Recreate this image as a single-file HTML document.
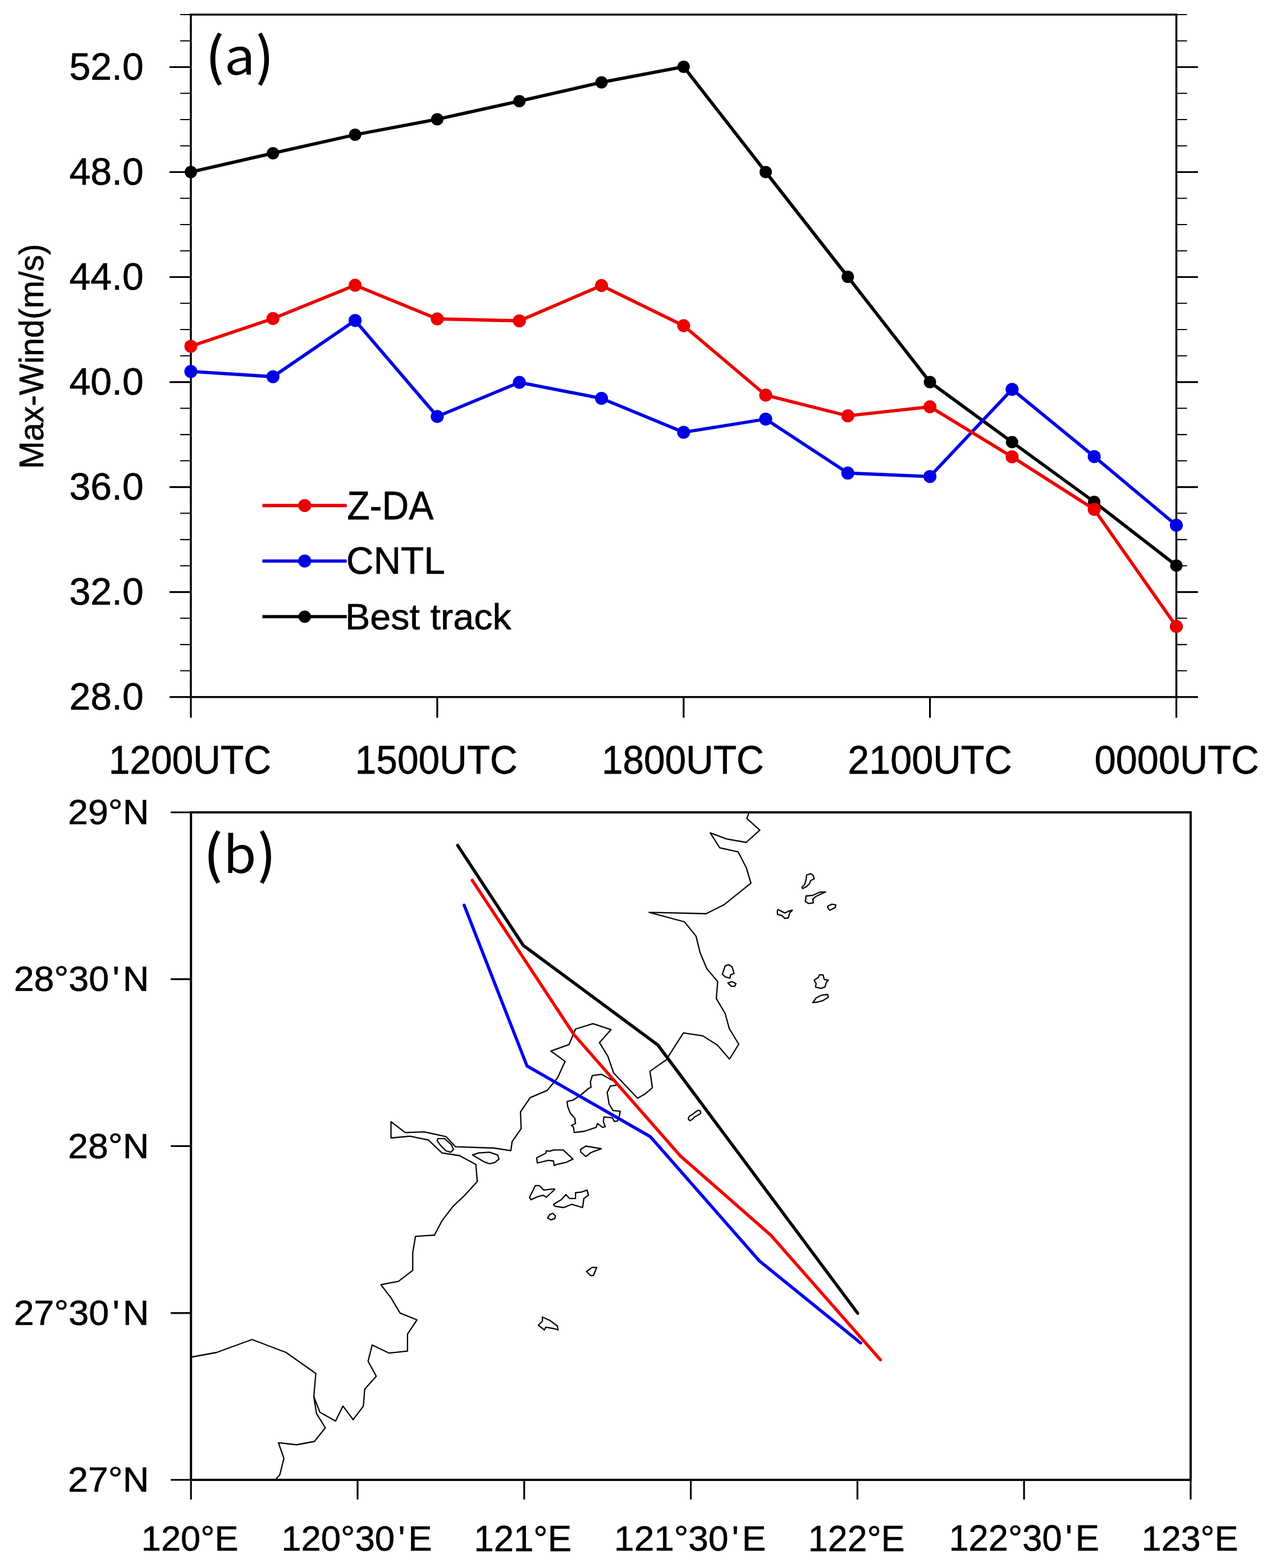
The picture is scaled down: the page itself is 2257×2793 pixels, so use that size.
<!DOCTYPE html><html><head><meta charset="utf-8"><title>Max wind and track</title>
<style>html,body{margin:0;padding:0;background:#fff;}svg{display:block;}text{font-family:"Liberation Sans",Arial,Helvetica,sans-serif;fill:#000;stroke:#000;stroke-width:1.1px;}.lab{font-family:"Noto Sans CJK SC","DejaVu Sans",sans-serif;stroke:none;}</style></head><body>
<svg width="2257" height="2793" viewBox="0 0 2257 2793">
<rect width="2257" height="2793" fill="#fff"/>
<rect x="340.0" y="26.0" width="1755.5" height="1215.6" fill="none" stroke="#000" stroke-width="3.5"/>
<path d="M302.0 1241.6H340.0M2095.5 1241.6H2134.0M302.0 1054.6H340.0M2095.5 1054.6H2134.0M302.0 867.6H340.0M2095.5 867.6H2134.0M302.0 680.6H340.0M2095.5 680.6H2134.0M302.0 493.5H340.0M2095.5 493.5H2134.0M302.0 306.5H340.0M2095.5 306.5H2134.0M302.0 119.5H340.0M2095.5 119.5H2134.0M340.0 1241.6V1278.6M778.9 1241.6V1278.6M1217.8 1241.6V1278.6M1656.6 1241.6V1278.6M2095.5 1241.6V1278.6" stroke="#000" stroke-width="3.2" fill="none"/>
<path d="M321.0 1194.8H340.0M2095.5 1194.8H2114.5M321.0 1148.1H340.0M2095.5 1148.1H2114.5M321.0 1101.3H340.0M2095.5 1101.3H2114.5M321.0 1007.8H340.0M2095.5 1007.8H2114.5M321.0 961.1H340.0M2095.5 961.1H2114.5M321.0 914.3H340.0M2095.5 914.3H2114.5M321.0 820.8H340.0M2095.5 820.8H2114.5M321.0 774.1H340.0M2095.5 774.1H2114.5M321.0 727.3H340.0M2095.5 727.3H2114.5M321.0 633.8H340.0M2095.5 633.8H2114.5M321.0 587.0H340.0M2095.5 587.0H2114.5M321.0 540.3H340.0M2095.5 540.3H2114.5M321.0 446.8H340.0M2095.5 446.8H2114.5M321.0 400.0H340.0M2095.5 400.0H2114.5M321.0 353.3H340.0M2095.5 353.3H2114.5M321.0 259.8H340.0M2095.5 259.8H2114.5M321.0 213.0H340.0M2095.5 213.0H2114.5M321.0 166.3H340.0M2095.5 166.3H2114.5M321.0 72.8H340.0M2095.5 72.8H2114.5M321.0 26.0H340.0M2095.5 26.0H2114.5" stroke="#000" stroke-width="2.1" fill="none"/>
<text font-size="100" text-anchor="end" transform="translate(255.77 1264.16) scale(0.6796 0.6806)">28.0</text>
<text font-size="100" text-anchor="end" transform="translate(255.77 1077.15) scale(0.6796 0.6806)">32.0</text>
<text font-size="100" text-anchor="end" transform="translate(255.77 890.13) scale(0.6796 0.6806)">36.0</text>
<text font-size="100" text-anchor="end" transform="translate(255.77 703.12) scale(0.6796 0.6806)">40.0</text>
<text font-size="100" text-anchor="end" transform="translate(255.77 516.10) scale(0.6796 0.6806)">44.0</text>
<text font-size="100" text-anchor="end" transform="translate(255.77 329.08) scale(0.6796 0.6806)">48.0</text>
<text font-size="100" text-anchor="end" transform="translate(255.77 142.07) scale(0.6796 0.6806)">52.0</text>
<text font-size="100" text-anchor="middle" transform="translate(338.36 1378.32) scale(0.6761 0.7097)">1200UTC</text>
<text font-size="100" text-anchor="middle" transform="translate(777.26 1378.32) scale(0.6752 0.7097)">1500UTC</text>
<text font-size="100" text-anchor="middle" transform="translate(1216.36 1378.32) scale(0.6752 0.7097)">1800UTC</text>
<text font-size="100" text-anchor="middle" transform="translate(1656.56 1378.32) scale(0.6833 0.7097)">2100UTC</text>
<text font-size="100" text-anchor="middle" transform="translate(2096.15 1378.32) scale(0.6847 0.7097)">0000UTC</text>
<text font-size="100" transform="translate(77.04 835.24) rotate(-90) scale(0.5917 0.6074)">Max-Wind(m/s)</text>
<polyline points="340.0,306.4 486.3,272.9 632.6,240.0 778.9,212.4 925.2,180.2 1071.5,146.7 1217.8,118.9 1364.0,306.4 1510.3,493.1 1656.6,680.6 1802.9,787.5 1949.2,894.0 2095.5,1007.4" fill="none" stroke="#000" stroke-width="5.8" stroke-linejoin="round"/><circle cx="340.0" cy="306.4" r="11.0" fill="#000"/><circle cx="486.3" cy="272.9" r="11.0" fill="#000"/><circle cx="632.6" cy="240.0" r="11.0" fill="#000"/><circle cx="778.9" cy="212.4" r="11.0" fill="#000"/><circle cx="925.2" cy="180.2" r="11.0" fill="#000"/><circle cx="1071.5" cy="146.7" r="11.0" fill="#000"/><circle cx="1217.8" cy="118.9" r="11.0" fill="#000"/><circle cx="1364.0" cy="306.4" r="11.0" fill="#000"/><circle cx="1510.3" cy="493.1" r="11.0" fill="#000"/><circle cx="1656.6" cy="680.6" r="11.0" fill="#000"/><circle cx="1802.9" cy="787.5" r="11.0" fill="#000"/><circle cx="1949.2" cy="894.0" r="11.0" fill="#000"/><circle cx="2095.5" cy="1007.4" r="11.0" fill="#000"/>
<polyline points="340.0,661.7 486.3,671.0 632.6,570.8 778.9,741.9 925.2,681.1 1071.5,709.6 1217.8,770.0 1364.0,746.5 1510.3,842.7 1656.6,848.8 1802.9,693.5 1949.2,813.3 2095.5,935.6" fill="none" stroke="#0000e4" stroke-width="5.8" stroke-linejoin="round"/><circle cx="340.0" cy="661.7" r="11.6" fill="#0000e4"/><circle cx="486.3" cy="671.0" r="11.6" fill="#0000e4"/><circle cx="632.6" cy="570.8" r="11.6" fill="#0000e4"/><circle cx="778.9" cy="741.9" r="11.6" fill="#0000e4"/><circle cx="925.2" cy="681.1" r="11.6" fill="#0000e4"/><circle cx="1071.5" cy="709.6" r="11.6" fill="#0000e4"/><circle cx="1217.8" cy="770.0" r="11.6" fill="#0000e4"/><circle cx="1364.0" cy="746.5" r="11.6" fill="#0000e4"/><circle cx="1510.3" cy="842.7" r="11.6" fill="#0000e4"/><circle cx="1656.6" cy="848.8" r="11.6" fill="#0000e4"/><circle cx="1802.9" cy="693.5" r="11.6" fill="#0000e4"/><circle cx="1949.2" cy="813.3" r="11.6" fill="#0000e4"/><circle cx="2095.5" cy="935.6" r="11.6" fill="#0000e4"/>
<polyline points="340.0,616.8 486.3,567.4 632.6,508.1 778.9,568.0 925.2,571.5 1071.5,508.6 1217.8,580.1 1364.0,703.9 1510.3,740.7 1656.6,724.6 1802.9,813.7 1949.2,907.3 2095.5,1115.9" fill="none" stroke="#ec0000" stroke-width="5.8" stroke-linejoin="round"/><circle cx="340.0" cy="616.8" r="11.6" fill="#ec0000"/><circle cx="486.3" cy="567.4" r="11.6" fill="#ec0000"/><circle cx="632.6" cy="508.1" r="11.6" fill="#ec0000"/><circle cx="778.9" cy="568.0" r="11.6" fill="#ec0000"/><circle cx="925.2" cy="571.5" r="11.6" fill="#ec0000"/><circle cx="1071.5" cy="508.6" r="11.6" fill="#ec0000"/><circle cx="1217.8" cy="580.1" r="11.6" fill="#ec0000"/><circle cx="1364.0" cy="703.9" r="11.6" fill="#ec0000"/><circle cx="1510.3" cy="740.7" r="11.6" fill="#ec0000"/><circle cx="1656.6" cy="724.6" r="11.6" fill="#ec0000"/><circle cx="1802.9" cy="813.7" r="11.6" fill="#ec0000"/><circle cx="1949.2" cy="907.3" r="11.6" fill="#ec0000"/><circle cx="2095.5" cy="1115.9" r="11.6" fill="#ec0000"/>
<path d="M467.4 900.5H617.7" stroke="#ec0000" stroke-width="5.8"/>
<circle cx="542.8" cy="900.5" r="11.6" fill="#ec0000"/>
<text font-size="100" transform="translate(618.24 925.03) scale(0.6610 0.7071)">Z-DA</text>
<path d="M467.4 999.3H617.7" stroke="#0000e4" stroke-width="5.8"/>
<circle cx="542.8" cy="999.3" r="11.6" fill="#0000e4"/>
<text font-size="100" transform="translate(616.86 1022.37) scale(0.6733 0.6764)">CNTL</text>
<path d="M467.4 1098.4H617.7" stroke="#000" stroke-width="5.8"/>
<circle cx="542.8" cy="1098.4" r="11.0" fill="#000"/>
<text font-size="100" transform="translate(614.90 1120.62) scale(0.6655 0.6482)">Best track</text>
<text font-size="100" class="lab" font-weight="500" transform="translate(366.55 133.63) scale(0.9277 0.9235)">(</text>
<text font-size="100" class="lab" transform="translate(399.52 133.00) scale(0.9803 0.8982)">a</text>
<text font-size="100" class="lab" font-weight="500" transform="translate(455.46 133.88) scale(0.8864 0.9265)">)</text>
<rect x="340.2" y="1447.0" width="1780.8" height="1189.0" fill="none" stroke="#000" stroke-width="4.0"/>
<path d="M340.2 2636.0V2671.0M637.0 2636.0V2671.0M933.8 2636.0V2671.0M1230.6 2636.0V2671.0M1527.4 2636.0V2671.0M1824.2 2636.0V2671.0M2121.0 2636.0V2671.0M304.2 2636.0H340.2M304.2 2338.8H340.2M304.2 2041.5H340.2M304.2 1744.2H340.2M304.2 1447.0H340.2" stroke="#000" stroke-width="3.2" fill="none"/>
<text font-size="100" text-anchor="end" transform="translate(265.30 2657.08) scale(0.6454 0.6334)">27°N</text>
<text font-size="100" text-anchor="end" transform="translate(265.30 2359.83) scale(0.6454 0.6334)">27°30<tspan dx="10">'</tspan><tspan dx="9">N</tspan></text>
<text font-size="100" text-anchor="end" transform="translate(265.30 2062.58) scale(0.6454 0.6334)">28°N</text>
<text font-size="100" text-anchor="end" transform="translate(265.30 1765.33) scale(0.6454 0.6334)">28°30<tspan dx="10">'</tspan><tspan dx="9">N</tspan></text>
<text font-size="100" text-anchor="end" transform="translate(265.30 1468.08) scale(0.6454 0.6334)">29°N</text>
<text font-size="100" text-anchor="middle" transform="translate(338.20 2762.35) scale(0.6316 0.6377)">120°E</text>
<text font-size="100" text-anchor="middle" transform="translate(635.39 2762.35) scale(0.6352 0.6377)">120°30<tspan dx="10">'</tspan><tspan dx="9">E</tspan></text>
<text font-size="100" text-anchor="middle" transform="translate(931.24 2762.77) scale(0.6358 0.6437)">121°E</text>
<text font-size="100" text-anchor="middle" transform="translate(1229.28 2762.35) scale(0.6396 0.6377)">121°30<tspan dx="10">'</tspan><tspan dx="9">E</tspan></text>
<text font-size="100" text-anchor="middle" transform="translate(1525.75 2762.77) scale(0.6282 0.6437)">122°E</text>
<text font-size="100" text-anchor="middle" transform="translate(1824.20 2762.35) scale(0.6331 0.6397)">122°30<tspan dx="10">'</tspan><tspan dx="9">E</tspan></text>
<text font-size="100" text-anchor="middle" transform="translate(2119.70 2762.35) scale(0.6286 0.6377)">123°E</text>
<g fill="none" stroke="#000" stroke-width="2.3" stroke-linejoin="round">
<polyline points="1334.1,1447.3 1330.5,1458.1 1353.5,1478.7 1329.3,1500.5 1294.2,1494.4 1265.2,1483.5 1282.1,1510.2 1314.8,1517.4 1329.3,1545.2 1337.7,1573.1 1289.4,1611.8 1257.9,1627.5 1156.3,1625.1 1219.2,1642.0 1239.8,1667.4 1247.0,1696.5 1259.1,1725.5 1278.5,1748.5 1276.0,1778.7 1291.8,1805.3 1299.0,1831.9 1316.0,1860.0 1299.5,1886.5 1277.9,1861.5 1252.0,1845.1 1217.4,1839.9 1186.3,1888.3 1157.8,1908.1 1162.1,1937.5 1150.0,1947.9 1135.8,1956.3 1093.1,1911.3 1082.8,1881.4 1067.8,1857.2 1088.5,1834.1 1056.3,1823.3 1025.2,1833.0 1013.6,1860.6 981.4,1872.2 1006.7,1890.6 992.9,1920.6 974.5,1942.4 944.5,1955.1 927.2,1980.5 928.4,2010.4 912.3,2033.5 910.0,2049.6 880.0,2045.0 811.5,2042.7 794.5,2024.6 755.8,2016.1 721.9,2017.3 696.5,1998.0 696.5,2027.0 730.4,2023.9 763.1,2030.6 787.3,2053.6 818.7,2058.5 847.7,2074.2 850.2,2104.4 828.4,2128.6 806.6,2149.2 787.3,2174.6 774.0,2200.0 740.1,2202.4 735.2,2231.5 735.2,2262.9 709.8,2282.3 678.4,2288.3 696.9,2312.3 712.6,2338.9 742.8,2351.0 725.9,2376.4 725.9,2406.6 693.2,2410.2 663.0,2395.7 655.7,2424.8 670.2,2451.4 649.7,2474.4 647.3,2504.6 629.1,2528.8 611.0,2504.6 597.7,2531.2 569.8,2515.5 559.0,2487.7 562.6,2446.5 509.4,2409.0 448.9,2386.0 386.0,2409.0 340.0,2417.5"/>
<polyline points="559.0,2487.7 563.8,2517.9 579.5,2543.3 560.2,2567.5 528.7,2573.5 496.0,2569.9 505.7,2597.7 498.5,2626.8 490.0,2636.5"/>
<polygon points="1055.1,1915.9 1071.2,1913.6 1096.6,1927.5 1097.7,1933.2 1087.4,1934.4 1081.6,1945.9 1085.1,1966.6 1092.0,1978.2 1104.7,1979.3 1103.5,1987.4 1100.0,1996.6 1094.3,1997.7 1090.8,1990.8 1075.9,1989.7 1074.7,1997.7 1078.2,2007.0 1073.5,2008.1 1064.3,2001.2 1062.0,2008.1 1041.3,2015.0 1022.9,2017.3 1021.7,2008.1 1018.2,2004.7 1025.2,2001.2 1024.0,1992.0 1015.9,1982.8 1011.3,1971.2 1010.2,1962.0 1020.6,1959.7 1034.4,1950.5 1048.2,1939.0 1052.8,1936.7 1051.7,1927.5"/>
<polygon points="956.0,2062.3 972.2,2054.2 973.3,2049.6 979.1,2050.7 986.0,2048.4 1003.3,2048.4 1020.6,2064.6 1009.0,2070.3 992.9,2073.8 987.1,2076.1 986.0,2068.0 976.8,2066.9 957.2,2071.5"/>
<polygon points="1034.4,2047.3 1043.6,2041.5 1071.2,2046.1 1052.8,2053.0 1043.6,2060.0 1034.4,2051.9"/>
<polygon points="943.4,2132.5 953.7,2111.8 960.6,2111.8 968.7,2119.9 987.1,2117.6 988.3,2118.7 973.3,2132.5 967.6,2129.1 958.3,2131.4 945.7,2137.1"/>
<polygon points="986.0,2145.2 999.8,2137.1 1007.9,2127.9 1014.8,2134.8 1025.2,2134.8 1025.2,2124.5 1035.5,2123.3 1045.9,2119.9 1048.2,2129.1 1040.1,2134.8 1037.8,2151.0 1018.2,2145.2 1004.4,2151.0 988.3,2148.7"/>
<polygon points="975.6,2169.4 979.1,2163.6 984.8,2161.3 989.4,2165.9 988.3,2170.6 981.4,2172.9"/>
<polygon points="780.0,2028.2 792.1,2028.2 804.2,2039.1 807.8,2047.6 803.0,2052.4 794.5,2050.0 784.8,2040.3 778.8,2031.9"/>
<polygon points="841.7,2057.3 852.6,2053.6 871.9,2052.4 886.5,2057.3 888.9,2064.5 881.6,2070.6 871.9,2073.0 862.3,2069.4"/>
<polygon points="1044.8,2264.9 1054.5,2257.7 1063.0,2257.7 1056.9,2272.2 1052.1,2272.2"/>
<polygon points="966.2,2346.0 979.5,2352.0 992.8,2361.7 994.0,2369.0 986.8,2366.5 972.3,2364.1 969.8,2369.0 959.0,2360.5 966.2,2353.2"/>
<polygon points="1384.9,1621.5 1386.1,1620.2 1393.4,1623.9 1398.2,1626.3 1405.5,1622.7 1411.5,1621.5 1406.7,1626.3 1404.3,1634.8 1398.2,1636.0 1393.4,1631.1 1384.9,1628.7"/>
<polygon points="1436.9,1558.5 1444.2,1556.1 1449.0,1559.8 1450.2,1565.8 1444.2,1568.2 1441.8,1574.3 1436.9,1579.1 1429.7,1582.7 1428.5,1580.3 1433.3,1575.5 1435.7,1568.2"/>
<polygon points="1435.7,1596.0 1447.8,1594.8 1461.1,1588.8 1470.8,1588.8 1462.3,1592.4 1452.7,1597.3 1447.8,1602.1 1449.0,1608.1 1440.6,1609.4 1434.5,1605.7 1435.7,1599.7"/>
<polygon points="1474.4,1614.2 1481.7,1610.6 1489.0,1611.8 1487.7,1616.6 1478.1,1621.5 1474.4,1616.6"/>
<polygon points="1286.9,1735.2 1291.8,1720.6 1297.8,1718.2 1303.9,1721.9 1306.3,1729.1 1307.5,1734.0 1301.5,1736.4 1300.2,1742.4 1291.8,1740.0"/>
<polygon points="1296.6,1750.9 1303.9,1748.5 1311.1,1752.1 1308.7,1756.9 1302.7,1756.9"/>
<polygon points="1450.2,1746.0 1457.5,1741.2 1459.9,1736.4 1466.0,1736.4 1468.4,1744.8 1475.6,1746.0 1472.0,1749.7 1469.6,1758.1 1462.3,1760.6 1452.7,1758.1 1453.9,1752.1"/>
<polygon points="1447.8,1786.0 1453.9,1777.5 1463.5,1772.7 1474.4,1771.5 1475.6,1776.3 1466.0,1782.3 1456.3,1784.8"/>
<polygon points="1226.0,1992.8 1227.8,1988.5 1234.7,1984.2 1239.9,1979.9 1244.2,1977.6 1247.6,1979.0 1248.2,1983.3 1243.3,1986.2 1237.3,1989.4 1232.9,1994.2 1228.6,1996.3"/>
</g>
<g fill="none" stroke-width="5.6" stroke-linejoin="round" stroke-linecap="round">
<polyline points="826.8,1612.3 938.8,1898.7 1158.6,2024.8 1352.6,2245.9 1533.0,2392.1" stroke="#0000ee"/>
<polyline points="841.2,1568.0 1022.5,1843.0 1211.8,2058.8 1373.3,2200.3 1568.3,2422.2" stroke="#f20000"/>
<polyline points="815.2,1505.8 932.1,1683.9 1172.0,1861.5 1527.8,2339.2" stroke="#000"/>
</g>
<text font-size="100" class="lab" font-weight="500" transform="translate(363.10 1556.15) scale(0.9554 0.9274)">(</text>
<text font-size="100" class="lab" transform="translate(397.81 1555.09) scale(0.9528 0.9049)">b</text>
<text font-size="100" class="lab" font-weight="500" transform="translate(458.70 1556.40) scale(0.9000 0.9304)">)</text>
</svg></body></html>
